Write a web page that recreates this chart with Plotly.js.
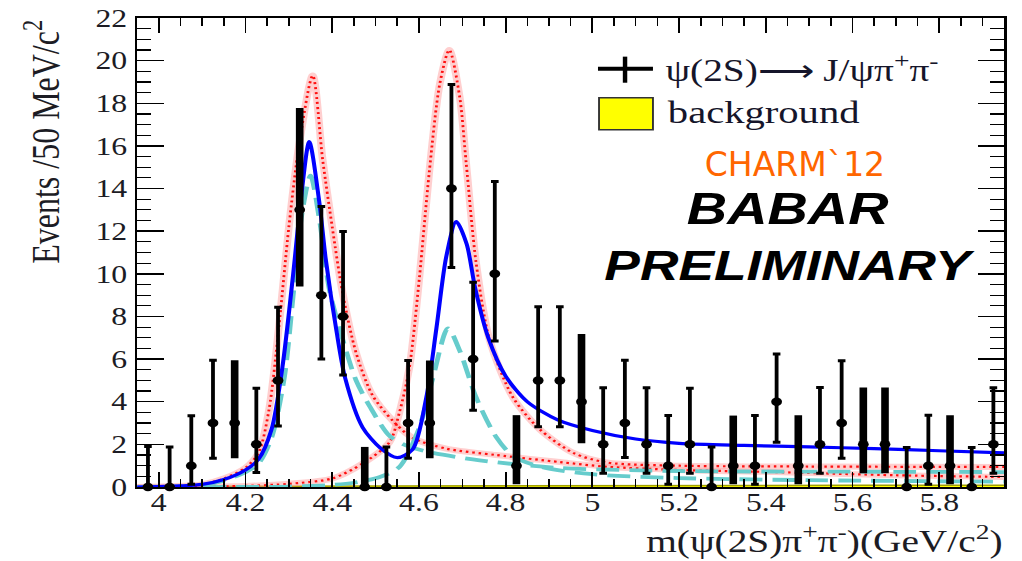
<!DOCTYPE html>
<html><head><meta charset="utf-8">
<script src="https://cdn.plot.ly/plotly-3.0.1.min.js"></script>
<style>
html,body{margin:0;padding:0;overflow:hidden;background:#fff;width:1022px;height:561px}
#wrap{width:805px;height:561px;transform:scaleX(1.26957);transform-origin:0 0;}
</style></head><body><div id="wrap"><div id="plot" style="width:805px;height:561px"></div></div>
<script>
// ---- data: psi(2S) pi+ pi- invariant mass, 50 MeV bins ----
const massBins = [3.975,4.025,4.075,4.125,4.175,4.225,4.275,4.325,4.375,4.425,
                  4.475,4.525,4.575,4.625,4.675,4.725,4.775,4.825,4.875,4.925,
                  4.975,5.025,5.075,5.125,5.175,5.225,5.275,5.325,5.375,5.425,
                  5.475,5.525,5.575,5.625,5.675,5.725,5.775,5.825,5.875,5.925];
const eventCounts = [0,0,1,3,3,2,5,13,9,8,
                     0,0,3,3,14,6,10,1,5,5,
                     4,2,3,2,1,2,0,1,1,4,
                     1,2,3,2,2,0,1,1,0,2];
const lowerBound = [0,0,0.13,1.35,1.35,0.68,2.86,9.4,6.0,5.25,
                    0,0,1.35,1.35,10.3,3.6,6.85,0.13,2.83,2.83,
                    2.05,0.65,1.38,0.65,0.13,0.65,0,0.13,0.13,2.1,
                    0.13,0.65,1.35,0.65,0.65,0,0.13,0.13,0,0.65];
const upperBound = [1.9,1.88,3.34,5.95,5.95,4.63,8.43,17.78,13.16,11.98,
                    1.88,1.88,5.93,5.93,18.88,9.6,14.33,3.37,8.46,8.46,
                    7.18,4.66,5.95,4.65,3.35,4.63,1.88,3.35,3.35,6.24,
                    3.37,4.67,5.92,4.67,4.67,1.85,3.37,3.37,1.85,4.66];

// total fit (blue solid)
const fitTotalX = [3.95,4.05,4.10,4.15,4.20,4.23,4.26,4.285,4.31,4.33,4.347,4.37,4.385,4.41,4.43,4.47,4.51,4.55,4.585,4.617,4.64,4.663,4.686,4.71,4.73,4.76,4.80,4.85,4.92,5.0,5.1,5.2,5.35,5.5,5.65,5.8,5.95];
const fitTotalY = [0.0,0.05,0.12,0.35,0.8,1.3,2.7,5.6,10.0,13.9,16.2,13.4,10.7,7.3,5.1,2.8,1.85,1.38,1.75,4.2,7.4,10.8,12.45,11.4,9.3,7.0,5.2,4.0,3.15,2.65,2.25,2.05,1.95,1.88,1.8,1.7,1.6];
// components, solution 1 (cyan dashed)
const compA1X = [3.95,4.10,4.15,4.20,4.23,4.26,4.29,4.31,4.33,4.35,4.37,4.393,4.416,4.455,4.486,4.532,4.57,4.62,4.74,4.92,5.2,5.6,5.95];
const compA1Y = [0,0.1,0.3,0.7,1.1,2.3,5.2,9.0,12.8,14.6,12.6,9.3,7.5,5.0,3.8,2.4,1.95,1.65,1.25,0.9,0.75,0.72,0.7];
const compB1X = [3.95,4.30,4.40,4.45,4.51,4.555,4.60,4.632,4.667,4.694,4.732,4.778,4.817,4.88,5.0,5.2,5.5,5.95];
const compB1Y = [0,0.02,0.1,0.2,0.47,0.94,2.74,5.1,7.44,6.4,4.2,2.35,1.45,0.95,0.6,0.42,0.32,0.25];
// components, solution 2 (red dotted)
const compA2X = [3.95,4.10,4.15,4.20,4.23,4.254,4.277,4.30,4.324,4.355,4.378,4.40,4.424,4.455,4.493,4.54,4.586,4.663,4.778,4.925,5.033,5.2,5.42,5.7,5.95];
const compA2Y = [0,0.12,0.4,0.9,1.6,3.6,7.5,12.2,16.1,19.3,15.35,12.2,9.1,6.3,4.3,3.1,2.3,1.8,1.5,1.17,0.95,0.8,0.7,0.55,0.47];
const compB2X = [3.95,4.20,4.30,4.40,4.47,4.532,4.555,4.578,4.601,4.624,4.648,4.67,4.694,4.709,4.732,4.763,4.817,4.879,4.956,5.033,5.2,5.5,5.95];
const compB2Y = [0,0.05,0.15,0.4,1.1,2.1,3.5,5.6,9.8,14.8,18.9,20.5,18.3,15.2,10.5,6.9,4.2,2.7,1.6,1.15,1.0,0.96,0.94];
// background (yellow)
const bkgX = [3.95,4.4,4.8,5.2,5.6,5.95];
const bkgY = [0.03,0.05,0.07,0.08,0.08,0.08];

// ---- styling ----
const thickBins = [4,7,10,13,17,20,27,30,33,34,37];
const serif = 'Liberation Serif, Times New Roman, serif';

function pick(arr, keep){ return arr.filter((_,i)=>keep(i)); }
function dataTrace(isThick){
  const keep = i => thickBins.includes(i) === isThick;
  const xs = pick(massBins, keep), ys = pick(eventCounts, keep);
  const lo = pick(lowerBound, keep), hi = pick(upperBound, keep);
  return {
    type:'scatter', mode:'markers', x:xs, y:ys, showlegend:false, cliponaxis:false,
    marker:{color:'#000', size:8.5},
    error_y:{type:'data', symmetric:false,
      array: hi.map((h,i)=>h-ys[i]), arrayminus: lo.map((l,i)=>ys[i]-l),
      color:'#000', thickness: isThick?6:3, width: isThick?0:3}
  };
}
function curve(x,y,line){ return {type:'scatter', mode:'lines', x:x, y:y, line:Object.assign({shape:'spline', smoothing:0.8}, line), showlegend:false, hoverinfo:'skip'}; }

const traces = [
  {type:'scatter', mode:'lines', x:bkgX, y:bkgY, fill:'tozeroy', fillcolor:'#ffff00', line:{color:'#a0a000', width:1.5}, showlegend:false},
  curve(compA2X, compA2Y, {color:'rgba(255,160,160,0.5)', width:6}),
  curve(compB2X, compB2Y, {color:'rgba(255,160,160,0.5)', width:6}),
  curve(compA2X, compA2Y, {color:'#ff1010', width:2.2, dash:'2px,3px'}),
  curve(compB2X, compB2Y, {color:'#ff1010', width:2.2, dash:'2px,3px'}),
  curve(compA1X, compA1Y, {color:'#66cccc', width:3.8, dash:'18px,8px'}),
  curve(compB1X, compB1Y, {color:'#66cccc', width:3.8, dash:'18px,8px'}),
  curve(fitTotalX, fitTotalY, {color:'#0000ff', width:3.2}),
  dataTrace(false),
  dataTrace(true)
];

const layout = {
  width:805, height:561,
  margin:{l:108, r:14, t:18, b:74},
  paper_bgcolor:'#fff', plot_bgcolor:'#fff',
  showlegend:false,
  xaxis:{range:[3.95,5.95], tick0:4, dtick:0.2, ticks:'inside', ticklen:15, tickwidth:1.5, tickcolor:'#000',
    minor:{dtick:0.05, ticks:'inside', ticklen:8, tickwidth:1.2, tickcolor:'#000', showgrid:false},
    showline:true, linecolor:'#000', linewidth:1.8, mirror:'allticks', showgrid:false, zeroline:false,
    tickfont:{family:serif, size:25, color:'#1c1c24'}, ticklabelstandoff:-8},
  yaxis:{range:[0,22], tick0:0, dtick:2, ticks:'inside', ticklen:21, tickwidth:1.5, tickcolor:'#000',
    minor:{dtick:0.5, ticks:'inside', ticklen:11, tickwidth:1.2, tickcolor:'#000', showgrid:false},
    showline:true, linecolor:'#000', linewidth:1.8, mirror:'allticks', showgrid:false, zeroline:false,
    tickfont:{family:serif, size:25, color:'#1c1c24'}, ticklabelstandoff:1},
  shapes:[
    {type:'line', xref:'paper', yref:'paper', x0:0.5315, x1:0.5949, y0:0.892, y1:0.892, line:{color:'#000', width:4}},
    {type:'line', xref:'paper', yref:'paper', x0:0.5627, x1:0.5627, y0:0.862, y1:0.9176, line:{color:'#000', width:3.5}},
    {type:'rect', xref:'paper', yref:'paper', x0:0.5327, x1:0.5949, y0:0.7615, y1:0.8299, fillcolor:'#ffff00', line:{color:'#333', width:1.5}}
  ],
  annotations:[
    {xref:'paper', yref:'paper', x:0.6065, y:0.892, xanchor:'left', yanchor:'middle', showarrow:false,
     text:'ψ(2S)⟶ J/ψπ<sup>+</sup>π<sup>-</sup>', font:{family:serif, size:31, color:'#15152a'}},
    {xref:'paper', yref:'paper', x:0.6085, y:0.800, xanchor:'left', yanchor:'middle', showarrow:false,
     text:'background', font:{family:serif, size:32, color:'#15152a'}},
    {xref:'paper', yref:'paper', x:0.7587, y:0.687, xanchor:'center', yanchor:'middle', showarrow:false,
     text:'CHARM`12', font:{family:'DejaVu Sans, sans-serif', size:33, color:'#ff6600'}},
    {xref:'paper', yref:'paper', x:0.7506, y:0.594, xanchor:'center', yanchor:'middle', showarrow:false,
     text:'<b><i>BABAR</i></b>', font:{family:'Liberation Sans, Arial, sans-serif', size:44, color:'#000'}},
    {xref:'paper', yref:'paper', x:0.754, y:0.4723, xanchor:'center', yanchor:'middle', showarrow:false,
     text:'<b><i>PRELIMINARY</i></b>', font:{family:'Liberation Sans, Arial, sans-serif', size:42, color:'#000'}},
    {xref:'paper', yref:'paper', x:-0.1098, y:0.736, xanchor:'center', yanchor:'middle', showarrow:false, textangle:-90,
     text:'Events /50 MeV/c<sup>2</sup>', font:{family:serif, size:32, color:'#1c1c24'}},
    {xref:'paper', yref:'paper', x:1.001, y:0, yshift:-52, xanchor:'right', yanchor:'middle', showarrow:false,
     text:'m(ψ(2S)π<sup>+</sup>π<sup>-</sup>)(GeV/c<sup>2</sup>)', font:{family:serif, size:31, color:'#1c1c24'}}
  ]
};

Plotly.newPlot('plot', traces, layout, {staticPlot:true, displayModeBar:false}).then(()=>{
  document.querySelectorAll('.annotation-text').forEach(t=>{
    if(t.textContent.indexOf('CHARM')>=0){
      t.style.transformBox='fill-box'; t.style.transformOrigin='center'; t.style.transform='scaleX(0.7877)';
    }
  });
});
</script></body></html>
